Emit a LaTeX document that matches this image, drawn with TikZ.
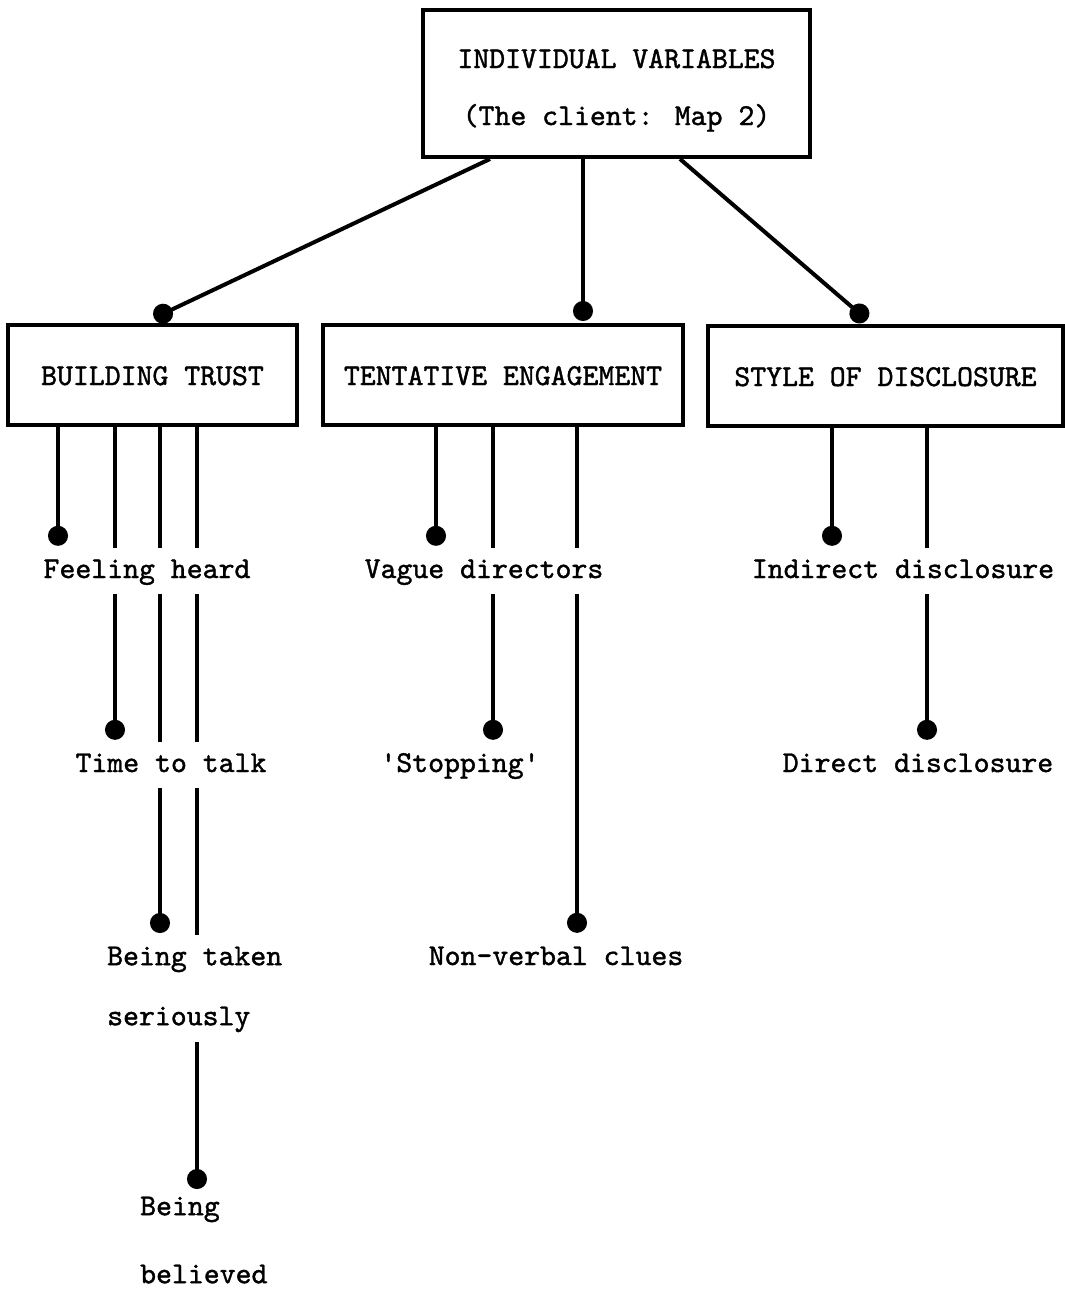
\documentclass[tikz,border=0pt]{standalone}
\usepackage{fontspec}
\usetikzlibrary{arrows.meta,backgrounds,calc}
% typewriter face at a 15.9pt character pitch, slightly emboldened
\newfontfamily\typewriter{lmmono10-regular.otf}[FakeBold=1.3]
% struts that fix the height of the first line and the depth of the last
\newcommand\firstline[1]{\rule{0pt}{#1}}
\newcommand\lastline[1]{\rule[-#1]{0pt}{#1}}

\begin{document}
\begin{tikzpicture}[x=1pt,y=-1pt,
  every node/.style={font=\typewriter\fontsize{30.3}{60}\selectfont},
  frame/.style={draw, line width=4pt, inner sep=0pt},
  heading/.style={frame, minimum height=100pt, text height=24pt, text depth=4pt},
  item/.style={fill=white, inner xsep=3pt, inner ysep=10pt,
               text height=20pt, text depth=6pt, anchor=base},
  block/.style={fill=white, inner xsep=3pt, inner ysep=10pt,
                align=left, anchor=north west},
  link/.style={line width=4pt, -{Circle[length=20pt,width=20pt]}}]
\useasboundingbox (0,0) rectangle (1065,1294);

% root box
\node[frame, minimum width=387pt, minimum height=147pt, align=center,
      font=\typewriter\fontsize{30.3}{57}\selectfont] (top) at (616.5,83.5)
  {\firstline{33pt}INDIVIDUAL VARIABLES\\(The client: Map 2)\lastline{7pt}};

% three headings
\node[heading, minimum width=289pt] (bt) at (152.5,375) {BUILDING TRUST};
\node[heading, minimum width=360pt] (te) at (503,375)   {TENTATIVE ENGAGEMENT};
\node[heading, minimum width=355pt] (sd) at (885.5,376) {STYLE OF DISCLOSURE};

% building trust
\node[item] (fh) at (147,578) {Feeling heard};
\node[item] (tt) at (171,772) {Time to talk};
\node[block] (bts) at (104,935) {\firstline{20pt}Being taken\\seriously\lastline{6pt}};
\node[block, inner ysep=4pt, font=\typewriter\fontsize{30.3}{68}\selectfont] (bb) at (137,1191)
  {\firstline{20pt}Being\\believed\lastline{3pt}};

% tentative engagement
\node[item] (vd) at (484,578) {Vague directors};
\node[item] (st) at (460,772) {\textquotesingle Stopping\textquotesingle};
\node[item] (nv) at (556,965) {Non-verbal clues};

% style of disclosure
\node[item] (id) at (903,578) {Indirect disclosure};
\node[item] (dd) at (918,772) {Direct disclosure};

\begin{scope}[on background layer]
  % root to headings
  \draw[link] (top.south -| 490,0) -- ($(bt.north -| 154,0)+(0,-5)$);
  \draw[link] (top.south -| 583,0) -- ($(te.north -| 583,0)+(0,-2)$);
  \draw[link] (top.south -| 680,0) -- ($(sd.north -| 867,0)+(0,-4)$);

  % building trust branches
  \draw[link] (bt.south -| 58,0)  -- ($(fh.north -| 58,0)+(0,-2)$);
  \draw[link] (bt.south -| 115,0) -- ($(tt.north -| 115,0)+(0,-2)$);
  \draw[link] (bt.south -| 160,0) -- ($(bts.north -| 160,0)+(0,-2)$);
  \draw[link] (bt.south -| 197,0) -- ($(bb.north -| 197,0)+(0,-2)$);

  % tentative engagement branches
  \draw[link] (te.south -| 436,0) -- ($(vd.north -| 436,0)+(0,-2)$);
  \draw[link] (te.south -| 493,0) -- ($(st.north -| 493,0)+(0,-2)$);
  \draw[link] (te.south -| 577,0) -- ($(nv.north -| 577,0)+(0,-2)$);

  % style of disclosure branches
  \draw[link] (sd.south -| 832,0) -- ($(id.north -| 832,0)+(0,-2)$);
  \draw[link] (sd.south -| 927,0) -- ($(dd.north -| 927,0)+(0,-2)$);
\end{scope}
\end{tikzpicture}
\end{document}
